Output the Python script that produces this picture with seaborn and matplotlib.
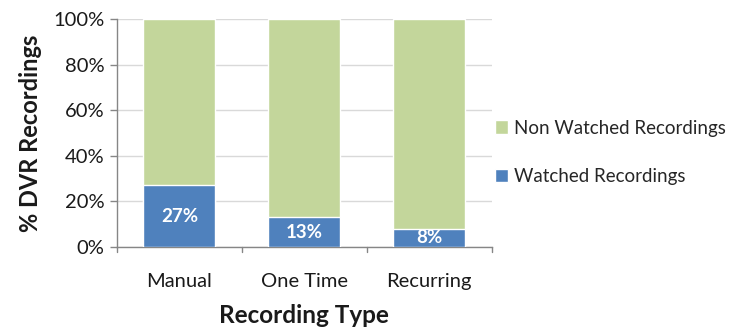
import matplotlib
matplotlib.use("Agg")
import matplotlib.pyplot as plt
from matplotlib.patches import Patch
import seaborn as sns
import pandas as pd

categories = ["Manual", "One Time", "Recurring"]
watched = [27, 13, 8]
non_watched = [73, 87, 92]
y_ticks = [0, 20, 40, 60, 80, 100]

blue = "#4F81BD"
green = "#C3D69B"

sns.set_theme(style="white")
plt.rcParams["font.family"] = ["Lato", "DejaVu Sans"]

df = pd.DataFrame({
    "type": categories,
    "watched": watched,
    "total": [w + n for w, n in zip(watched, non_watched)],
})

fig = plt.figure(figsize=(7.36, 3.28), dpi=100)
ax = fig.add_axes([0.159, 0.247, 0.509, 0.695])

sns.barplot(data=df, x="type", y="total", color=green, width=0.576,
            saturation=1, ax=ax, zorder=2)
sns.barplot(data=df, x="type", y="watched", color=blue, width=0.576,
            saturation=1, ax=ax, zorder=3)

for i, w in enumerate(watched):
    ax.text(i, w / 2, f"{w}%", ha="center", va="center", color="white",
            fontsize=13.5, fontweight="bold", zorder=4)

ax.set_xlim(-0.5, len(categories) - 0.5)
ax.set_ylim(0, 100)
ax.set_yticks(y_ticks)
ax.set_yticklabels([f"{t}%" for t in y_ticks], fontsize=14.5, color="#1a1a1a")
ax.set_xticks(range(len(categories)))
ax.set_xticklabels(categories, fontsize=14.5, color="#1a1a1a")
ax.tick_params(axis="x", length=0, pad=19)
ax.tick_params(axis="y", length=5, color="#868686", width=1, left=True, pad=4)

ax.yaxis.grid(True, color="#d9d9d9", linewidth=1, zorder=0)
ax.set_axisbelow(True)

for s in ["top", "right"]:
    ax.spines[s].set_visible(False)
for s in ["left", "bottom"]:
    ax.spines[s].set_color("#868686")
    ax.spines[s].set_linewidth(1)

# category boundary ticks under the x axis
for b in [-0.5, 0.5, 1.5, 2.5]:
    ax.plot([b, b], [0, -2.4], color="#868686", lw=1, clip_on=False, zorder=1)

ax.set_xlabel("Recording Type", fontsize=17.5, fontweight="bold",
              color="#1a1a1a", labelpad=10)
ax.set_ylabel("% DVR Recordings", fontsize=17, fontweight="bold",
              color="#1a1a1a", labelpad=8)

handles = [Patch(facecolor=green, label="Non Watched Recordings"),
           Patch(facecolor=blue, label="Watched Recordings")]
fig.legend(handles=handles, loc="center left", bbox_to_anchor=(0.672, 0.535),
           frameon=False, fontsize=13.5, handlelength=0.7, handleheight=0.7,
           handletextpad=0.35, labelspacing=1.7, borderpad=0,
           borderaxespad=0)

fig.savefig("out.png", dpi=100)
